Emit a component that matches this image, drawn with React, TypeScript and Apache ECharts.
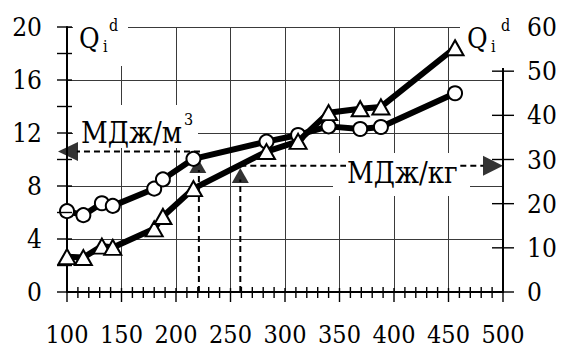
import React, { useEffect, useRef } from "react";
import * as echarts from "echarts";

// x values (abscissa)
const xValues = [100, 115, 132, 142, 180, 188, 216, 283, 312, 340, 369, 388, 456];
// Q_i^d, MJ/m3 (left axis) - circles
const qM3 = [6.1, 5.8, 6.7, 6.5, 7.8, 8.5, 10.05, 11.35, 11.85, 12.5, 12.3, 12.45, 15.0];
// Q_i^d, MJ/kg (right axis) - triangles
const qKg = [8.0, 7.8, 10.4, 10.1, 14.3, 17.1, 23.4, 31.8, 34.1, 40.6, 41.5, 41.9, 55.3];

const xTicks = { min: 100, max: 500, step: 50 };
const leftTicks = { min: 0, max: 20, step: 4 };
const rightTicks = { min: 0, max: 60, step: 10 };
const xMajorTickValues = [100, 150, 200, 250, 300, 350, 400, 450, 500];
const xMinorTickValues = [110, 120, 130, 140, 160, 170, 180, 190, 210, 220, 230, 240, 260, 270, 280, 290, 310, 320, 330, 340, 360, 370, 380, 390, 410, 420, 430, 440, 460, 470, 480, 490];
const leftTickValues = [0, 2, 4, 6, 8, 10, 12, 14, 16, 18, 20];
const rightTickValues = [0, 10, 20, 30, 40, 50];

// reading guides (dashed arrows)
const guideUp1 = [[221, 0], [221, 9.2]];
const guideUp2 = [[259, 0], [259, 8.5]];
const guideLeft = [[222, 10.6], [109, 10.6]]; // left axis units
const guideRight = [[259, 28.6], [482, 28.6]]; // right axis units
const upHeads = [[220, 9.55], [259, 8.8]];
const leftHead = [[100.9, 10.6]];
const rightHead = [[490.8, 28.6]];

const FONT = "DejaVu Serif Condensed, DejaVu Serif";

export default function App() {
  const ref = useRef<HTMLDivElement>(null);
  useEffect(() => {
    const chart = echarts.init(ref.current!, null, { renderer: "svg" });
    const black = "#000000";
    const grid = "#3a3a3a";
    const labelStyle = (size: number, margin: number) => ({
      show: true,
      color: black,
      fontSize: size,
      fontFamily: FONT,
      margin,
    });
    const dashed = (data: number[][], yAxisIndex: number) => ({
      type: "line",
      data,
      yAxisIndex,
      symbol: "none",
      lineStyle: { color: black, width: 2, type: [6, 4] },
      z: 3,
      silent: true,
    });
    const head = (data: number[][], yAxisIndex: number, rot: number, size: number[]) => ({
      type: "scatter",
      data,
      yAxisIndex,
      symbol: "triangle",
      symbolSize: size,
      symbolRotate: rot,
      itemStyle: { color: black },
      clip: false,
      z: 4,
      silent: true,
    });
    // tick marks drawn through the axes' own scales
    const ticks = (
      data: number[][],
      yAxisIndex: number,
      dir: "x" | "y",
      a: number,
      b: number
    ) => ({
      type: "custom",
      data,
      yAxisIndex,
      clip: false,
      silent: true,
      z: 7,
      renderItem: (_p: any, api: any) => {
        const p = api.coord([api.value(0), api.value(1)]);
        const shape =
          dir === "x"
            ? { x1: p[0], y1: p[1] - a, x2: p[0], y2: p[1] + b }
            : { x1: p[0] - a, y1: p[1], x2: p[0] + b, y2: p[1] };
        return { type: "line", shape, style: { stroke: "#000", lineWidth: 1.4 } };
      },
    });
    const txt = (text: string, x: number, y: number, size: number, extra: any = {}) => ({
      type: "text",
      x,
      y,
      z: 10,
      style: {
        text,
        fill: black,
        fontSize: size,
        fontFamily: FONT,
        align: "left",
        verticalAlign: "middle",
        ...extra,
      },
    });
    const rect = (x: number, y: number, w: number, h: number) => ({
      type: "rect",
      z: 1,
      shape: { x, y, width: w, height: h },
      style: { fill: "#fff" },
      silent: true,
    });

    chart.setOption({
      animation: false,
      backgroundColor: "#fff",
      grid: { left: 67, right: 60, top: 27, bottom: 57 },
      xAxis: [
        {
          type: "value",
          position: "bottom",
          min: xTicks.min,
          max: xTicks.max,
          interval: xTicks.step,
          axisLine: { show: true, onZero: false, lineStyle: { color: black, width: 2 } },
          axisTick: { show: false },
          splitLine: { show: true, lineStyle: { color: grid, width: 1 } },
          axisLabel: labelStyle(25, 30),
        },
      ],
      yAxis: [
        {
          type: "value",
          position: "left",
          min: leftTicks.min,
          max: leftTicks.max,
          interval: leftTicks.step,
          axisLine: { show: true, onZero: false, lineStyle: { color: black, width: 2 } },
          axisTick: { show: false },
          splitLine: { show: true, lineStyle: { color: grid, width: 1 } },
          axisLabel: labelStyle(26, 25),
        },
        {
          type: "value",
          position: "right",
          min: rightTicks.min,
          max: rightTicks.max,
          interval: rightTicks.step,
          axisLine: { show: true, onZero: false, lineStyle: { color: black, width: 2 } },
          axisTick: { show: false },
          splitLine: { show: false },
          axisLabel: labelStyle(26, 24),
        },
      ],
      series: [
        dashed(guideUp1, 0),
        dashed(guideUp2, 0),
        dashed(guideLeft, 0),
        dashed(guideRight, 1),
        {
          type: "line",
          name: "МДж/м3",
          yAxisIndex: 0,
          data: xValues.map((x, i) => [x, qM3[i]]),
          symbol: "circle",
          symbolSize: 14,
          showAllSymbol: true,
          lineStyle: { color: black, width: 6 },
          itemStyle: { color: "#fff", borderColor: black, borderWidth: 2 },
          z: 5,
        },
        {
          type: "line",
          name: "МДж/кг",
          yAxisIndex: 1,
          data: xValues.map((x, i) => [x, qKg[i]]),
          symbol: "triangle",
          symbolSize: [17, 15],
          showAllSymbol: true,
          lineStyle: { color: black, width: 6 },
          itemStyle: { color: "#fff", borderColor: black, borderWidth: 2 },
          z: 6,
        },
        head(upHeads, 0, 0, [17, 15]),
        head(leftHead, 0, 90, [19, 20]),
        head(rightHead, 1, -90, [20, 20]),
        ticks(xMajorTickValues.map((v) => [v, leftTicks.min]), 0, "x", 4, 10),
        ticks(xMinorTickValues.map((v) => [v, leftTicks.min]), 0, "x", 5, 6),
        ticks(leftTickValues.map((v) => [xTicks.min, v]), 0, "y", 10, 5),
        ticks(rightTickValues.map((v) => [xTicks.max, v]), 1, "y", 11, 11),
      ],
      graphic: [
        rect(73, 15, 55, 51),
        rect(73, 105, 125, 43),
        rect(460, 15, 60, 53),
        rect(333, 153, 137, 43),
        txt("Q", 79, 38.5, 28),
        txt("i", 103, 46, 16),
        txt("d", 109, 25.5, 16),
        txt("Q", 467, 38.5, 28),
        txt("i", 491, 46, 16),
        txt("d", 501, 25.5, 16),
        txt("МДж/м", 81, 132.5, 29),
        txt("3", 184, 119, 16),
        txt("МДж/кг", 346, 173, 29, { backgroundColor: "#fff", padding: [2, 1] }),
      ],
    });
    return () => chart.dispose();
  }, []);
  return (
    <div
      ref={ref}
      style={{ position: "absolute", left: 0, top: 0, width: 563, height: 349, background: "#fff" }}
    />
  );
}
